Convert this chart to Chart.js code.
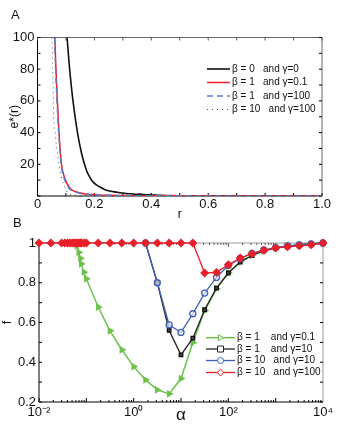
<!DOCTYPE html>
<html lang="en">
<head>
  <meta charset="UTF-8">
  <title>e*(r) and f vs alpha</title>
  <script src="https://cdn.jsdelivr.net/npm/chart.js"></script>
  <style>
    body { margin: 0; background: #fff; width: 345px; height: 429px; overflow: hidden; }
    .panel { position: absolute; left: 0; }
    #wrapA { top: 0; }
    #wrapB { top: 212px; }
  </style>
</head>
<body>
  <div class="panel" id="wrapA"><canvas id="chartA" width="345" height="222"></canvas></div>
  <div class="panel" id="wrapB"><canvas id="chartB" width="345" height="217"></canvas></div>

  <script>
    // ---- panel A: e*(r) against r ----
    const rBeta0 = [0.104, 0.111, 0.119, 0.129, 0.141, 0.155, 0.172, 0.185, 0.195, 0.207, 0.219, 0.237, 0.254, 0.27, 0.285, 0.3, 0.313, 0.33, 0.345, 0.36, 0.371, 0.39, 0.41, 0.43, 0.46, 0.5, 0.6, 0.7, 0.8, 0.9, 1.0];
    const eBeta0 = [100, 84, 69, 54, 39.5, 26.8, 16.3, 11.5, 8.9, 7.0, 5.7, 4.0, 3.2, 2.6, 2.2, 1.9, 1.5, 1.4, 1.0, 1.2, 0.9, 0.8, 0.6, 0.4, 0.3, 0.2, 0.1, 0.05, 0, 0, 0];
    const rBeta1g01 = [0.061, 0.064, 0.069, 0.075, 0.084, 0.096, 0.114, 0.143, 0.178, 0.195, 0.25, 0.35, 0.5, 0.7, 1.0];
    const eBeta1g01 = [100, 83.8, 62.7, 41.6, 20.5, 11.2, 4.9, 2.2, 1.1, 0.9, 0.4, 0.2, 0.1, 0, 0];
    const rBeta1g100 = [0.060, 0.063, 0.068, 0.074, 0.083, 0.094, 0.111, 0.14, 0.175, 0.2, 0.25, 0.35, 0.5, 0.7, 1.0];
    const eBeta1g100 = [100, 83.8, 62.7, 41.6, 20.5, 11.2, 4.9, 2.2, 1.1, 0.7, 0.4, 0.2, 0.1, 0, 0];
    const rBeta10g100 = [0.051, 0.053, 0.055, 0.057, 0.062, 0.067, 0.075, 0.084, 0.096, 0.108, 0.13, 0.16, 0.2, 0.3, 0.5, 1.0];
    const eBeta10g100 = [100, 84, 67, 50, 40, 31, 20.5, 12, 5.7, 1.5, 0.6, 0.3, 0.1, 0, 0, 0];

    // ---- panel B: f against alpha ----
    const alphaGreen = [0.06, 0.063, 0.069, 0.075, 0.078, 0.089, 0.1, 0.178, 0.316, 0.562, 1, 1.78, 3.16, 5.62, 10, 17.8, 31.6, 56.2, 100, 178, 316, 562, 1000, 1780, 3160, 5620, 10000];
    const fGreen = [1.0, 0.986, 0.953, 0.923, 0.895, 0.853, 0.82, 0.678, 0.558, 0.463, 0.378, 0.311, 0.261, 0.241, 0.318, 0.499, 0.66, 0.77, 0.85, 0.905, 0.938, 0.96, 0.975, 0.985, 0.99, 0.995, 1.0];
    const alphaTail = [1.78, 3.16, 5.62, 10, 17.8, 31.6, 56.2, 100, 178, 316, 562, 1000, 1780, 3160, 5620, 10000];
    const fBlack = [1, 0.8, 0.56, 0.437, 0.521, 0.664, 0.773, 0.849, 0.904, 0.937, 0.961, 0.975, 0.984, 0.99, 0.995, 1.0];
    const fBlue = [1, 0.8, 0.588, 0.55, 0.644, 0.748, 0.827, 0.887, 0.922, 0.948, 0.965, 0.977, 0.985, 0.99, 0.995, 1.0];
    const alphaRed = [0.01, 0.0178, 0.03, 0.035, 0.04, 0.045, 0.05, 0.055, 0.06, 0.065, 0.07, 0.075, 0.08, 0.09, 0.1, 0.178, 0.316, 0.562, 1, 1.78, 3.16, 5.62, 10, 17.8, 31.6, 56.2, 100, 178, 316, 562, 1000, 1780, 3160, 5620, 10000];
    const fRed = [1, 1, 1, 1, 1, 1, 1, 1, 1, 1, 1, 1, 1, 1, 1, 1, 1, 1, 1, 1, 1, 1, 1, 1, 0.849, 0.852, 0.89, 0.924, 0.946, 0.963, 0.975, 0.981, 0.986, 0.991, 1.0];
    const xLabelsB = { '-2': '10⁻²', '0': '10⁰', '2': '10²', '4': '10⁴' };

    const pairs = (xs, ys) => xs.map((x, i) => ({ x: x, y: ys[i] }));

    Chart.defaults.font.family = '"Liberation Sans", Arial, Helvetica, sans-serif';
    Chart.defaults.color = '#111';

    function drawMarker(ctx, style, x, y, r) {
      ctx.beginPath();
      if (style === 'circle') ctx.arc(x, y, r, 0, Math.PI * 2);
      else if (style === 'rect') ctx.rect(x - r, y - r, 2 * r, 2 * r);
      else if (style === 'rectRot') { ctx.moveTo(x, y - r * 1.2); ctx.lineTo(x + r, y); ctx.lineTo(x, y + r * 1.2); ctx.lineTo(x - r, y); ctx.closePath(); }
      else { ctx.moveTo(x + r, y); ctx.lineTo(x - r * 0.7, y - r); ctx.lineTo(x - r * 0.7, y + r); ctx.closePath(); }
      ctx.fillStyle = '#fff';
      ctx.fill();
      ctx.stroke();
    }

    // box, inward tick marks, legend and panel letter
    const framePlugin = {
      id: 'frame',
      beforeDatasetsDraw(chart, args, o) {
        const { ctx, chartArea: a } = chart;
        const sx = chart.scales.x, sy = chart.scales.y;
        const seg = (x1, y1, x2, y2, c) => { ctx.strokeStyle = c; ctx.beginPath(); ctx.moveTo(x1, y1); ctx.lineTo(x2, y2); ctx.stroke(); };
        ctx.save();
        ctx.lineWidth = 1;
        seg(a.left, a.top, a.right, a.top, o.farColor);
        seg(a.right, a.top, a.right, a.bottom, o.farColor);
        seg(a.left, a.top, a.left, a.bottom, '#000');
        seg(a.left, a.bottom, a.right, a.bottom, '#000');
        o.xTicks.forEach(([v, len]) => {
          const p = sx.getPixelForValue(v);
          seg(p, a.bottom, p, a.bottom - len, '#000');
          seg(p, a.top, p, a.top + len, '#555');
        });
        o.yTicks.forEach(([v, len]) => {
          const p = sy.getPixelForValue(v);
          seg(a.left, p, a.left + len, p, '#000');
          seg(a.right, p, a.right - len, p, '#000');
        });
        ctx.restore();
      },
      afterDatasetsDraw(chart, args, o) {
        const ctx = chart.ctx;
        const lg = o.legend;
        ctx.save();
        ctx.font = '10px "Liberation Sans", Arial, sans-serif';
        ctx.textBaseline = 'middle';
        ctx.fillStyle = '#111';
        chart.data.datasets.forEach((ds, i) => {
          const y = lg.rows[i];
          ctx.strokeStyle = ds.borderColor;
          ctx.lineWidth = ds.borderWidth;
          ctx.setLineDash(ds.borderDash || []);
          ctx.beginPath(); ctx.moveTo(lg.x1, y); ctx.lineTo(lg.x2, y); ctx.stroke();
          ctx.setLineDash([]);
          if (ds.pointRadius) {
            ctx.lineWidth = 1;
            drawMarker(ctx, ds.pointStyle, (lg.x1 + lg.x2) / 2, y, 3);
          }
          ctx.fillStyle = '#111';
          ctx.fillText(ds.label, lg.textX, y);
        });
        ctx.font = '13px "Liberation Sans", Arial, sans-serif';
        ctx.fillText(o.letter.text, o.letter.x, o.letter.y);
        ctx.restore();
      }
    };

    // tick marks
    const ticksA_x = [];
    for (let i = 0; i <= 10; i++) ticksA_x.push([i / 10, 3]);
    const ticksA_y = [];
    for (let i = 0; i <= 10; i++) ticksA_y.push([i * 10, 3]);
    const ticksB_x = [];
    for (let d = -2; d < 4; d++) {
      ticksB_x.push([Math.pow(10, d), 4]);
      for (let k = 2; k <= 9; k++) ticksB_x.push([k * Math.pow(10, d), 2]);
    }
    const ticksB_y = [];
    for (let i = 2; i <= 10; i++) ticksB_y.push([i / 10, 3]);

    new Chart(document.getElementById('chartA'), {
      type: 'line',
      data: {
        datasets: [
          { label: 'β = 0   and γ=0', data: pairs(rBeta0, eBeta0), borderColor: '#111', borderWidth: 1.6, order: 2 },
          { label: 'β = 1   and γ=0.1', data: pairs(rBeta1g01, eBeta1g01), borderColor: '#f21d24', borderWidth: 1.5, order: 1 },
          { label: 'β = 1   and γ=100', data: pairs(rBeta1g100, eBeta1g100), borderColor: '#5a7bd0', borderWidth: 1.5, borderDash: [6, 4], order: 0 },
          { label: 'β = 10   and γ=100', data: pairs(rBeta10g100, eBeta10g100), borderColor: '#555', borderWidth: 1, borderDash: [1, 4], order: 3 }
        ]
      },
      options: {
        responsive: false,
        devicePixelRatio: 1,
        animation: false,
        layout: { padding: { top: 37.5, right: 23, left: 0, bottom: 0 } },
        elements: { point: { radius: 0 }, line: { cubicInterpolationMode: 'monotone' } },
        plugins: {
          legend: { display: false },
          tooltip: { enabled: false },
          frame: {
            farColor: '#666', xTicks: ticksA_x, yTicks: ticksA_y,
            legend: { x1: 207, x2: 230, textX: 232, rows: [69, 82.5, 96, 109.5] },
            letter: { text: 'A', x: 11, y: 15 }
          }
        },
        scales: {
          x: {
            type: 'linear', min: 0, max: 1,
            ticks: { stepSize: 0.2, font: { size: 13 }, padding: 1, maxRotation: 0 },
            grid: { display: false, drawTicks: false },
            border: { display: false },
            title: { display: true, text: 'r', font: { size: 12 }, padding: 0 },
            afterFit: s => { s.height = 26; }
          },
          y: {
            min: 0, max: 100,
            ticks: { stepSize: 20, font: { size: 13 }, padding: 3, callback: v => v === 0 ? '' : v },
            grid: { display: false, drawTicks: false },
            border: { display: false },
            title: { display: true, text: 'e*(r)', font: { size: 12 }, padding: { top: 7 } },
            afterFit: s => { s.width = 37.5; }
          }
        }
      },
      plugins: [framePlugin]
    });

    new Chart(document.getElementById('chartB'), {
      type: 'line',
      data: {
        datasets: [
          { label: 'β = 1    and γ=0.1', data: pairs(alphaGreen, fGreen), borderColor: '#6cc24a', borderWidth: 1.5,
            pointStyle: 'triangle', rotation: 90, pointRadius: 3, pointBackgroundColor: '#6cc24a', pointBorderColor: '#6cc24a', order: 3 },
          { label: 'β = 1    and γ=10', data: pairs(alphaTail, fBlack), borderColor: '#222', borderWidth: 1.3,
            pointStyle: 'rect', pointRadius: 2.5, pointBackgroundColor: '#444', pointBorderColor: '#111', order: 2 },
          { label: 'β = 10   and γ=10', data: pairs(alphaTail, fBlue), borderColor: '#3d5fb8', borderWidth: 1.3,
            pointStyle: 'circle', pointRadius: 3, pointBackgroundColor: 'rgba(255,255,255,0.6)', pointBorderColor: '#3d5fb8', order: 1 },
          { label: 'β = 10   and γ=100', data: pairs(alphaRed, fRed), borderColor: '#e8202a', borderWidth: 1.3,
            pointStyle: 'rectRot', pointRadius: 3.6, pointBackgroundColor: '#e8202a', pointBorderColor: '#e8202a', order: 0 }
        ]
      },
      options: {
        responsive: false,
        devicePixelRatio: 1,
        animation: false,
        clip: false,
        layout: { padding: { top: 31, right: 22, left: 0, bottom: 0 } },
        elements: { line: { tension: 0 }, point: { borderWidth: 1 } },
        plugins: {
          legend: { display: false },
          tooltip: { enabled: false },
          frame: {
            farColor: '#999', xTicks: ticksB_x, yTicks: ticksB_y,
            legend: { x1: 206, x2: 235, textX: 237, rows: [125.7, 137, 148.5, 160.5] },
            letter: { text: 'B', x: 13, y: 11 }
          }
        },
        scales: {
          x: {
            type: 'logarithmic', min: 0.01, max: 10000,
            afterBuildTicks: s => { s.ticks = [0.01, 1, 100, 10000].map(v => ({ value: v })); },
            ticks: { font: { size: 13 }, padding: 3, maxRotation: 0, autoSkip: false,
              callback: v => xLabelsB[String(Math.round(Math.log10(v)))] },
            grid: { display: false, drawTicks: false },
            border: { display: false },
            title: { display: true, text: 'α', font: { size: 17 }, padding: { bottom: 3 } },
            afterFit: s => { s.height = 27; }
          },
          y: {
            min: 0.2, max: 1,
            ticks: { stepSize: 0.2, font: { size: 13 }, padding: 3, callback: v => String(Number(v.toFixed(1))) },
            grid: { display: false, drawTicks: false },
            border: { display: false },
            title: { display: true, text: 'f', font: { size: 13 }, padding: { top: 0 } },
            afterFit: s => { s.width = 39; }
          }
        }
      },
      plugins: [framePlugin]
    });
  </script>
</body>
</html>
